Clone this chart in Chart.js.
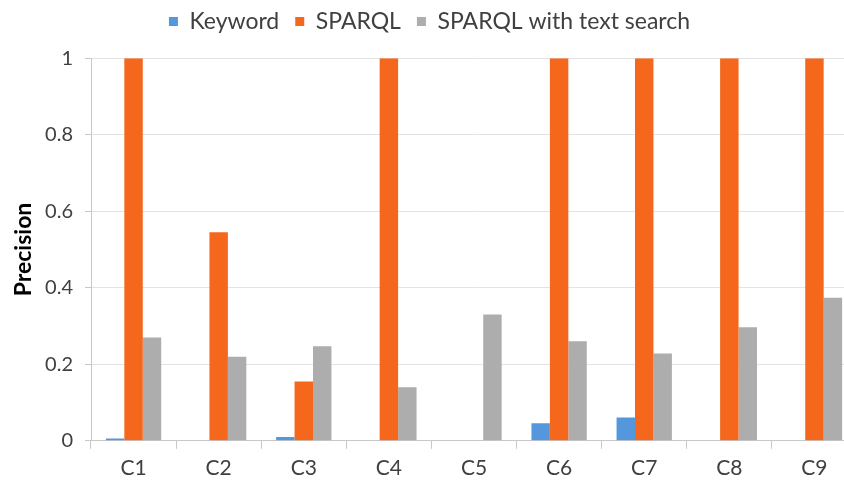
<!DOCTYPE html>
<html>
<head>
<meta charset="utf-8">
<script src="https://cdn.jsdelivr.net/npm/chart.js@4/dist/chart.umd.min.js"></script>
<style>
html, body { margin: 0; padding: 0; background: #fff; overflow: hidden; width: 844px; height: 485px; }
canvas { display: block; }
</style>
</head>
<body>
<canvas id="c" width="858" height="485" style="width:858px;height:485px"></canvas>
<script>
const categories = ['C1', 'C2', 'C3', 'C4', 'C5', 'C6', 'C7', 'C8', 'C9'];
const keyword = [0.006, 0, 0.01, 0, 0, 0.046, 0.061, 0, 0];
const sparql = [1, 0.545, 0.155, 1, 0, 1, 1, 1, 1];
const sparqlText = [0.27, 0.22, 0.247, 0.14, 0.33, 0.26, 0.228, 0.297, 0.374];
const yTicks = [0, 0.2, 0.4, 0.6, 0.8, 1];

const FONT = 'Lato, "Open Sans", sans-serif';

const legendShift = {
  id: 'legendShift',
  afterLayout(chart) {
    const l = chart.legend;
    if (!l) return;
    l.left += 1; l.right += 1;
    l.adjustHitBoxes();
  }
};

new Chart(document.getElementById('c'), {
  type: 'bar',
  data: {
    labels: categories,
    datasets: [
      { label: 'Keyword', data: keyword, backgroundColor: '#5597dd' },
      { label: 'SPARQL', data: sparql, backgroundColor: '#f4671c' },
      { label: 'SPARQL with text search', data: sparqlText, backgroundColor: '#adadad' }
    ]
  },
  options: {
    responsive: false,
    animation: false,
    datasets: { bar: { categoryPercentage: 0.65, barPercentage: 1.0 } },
    layout: { padding: { top: -6, right: 1, bottom: -3, left: 0 } },
    plugins: {
      legend: {
        position: 'top',
        labels: {
          boxWidth: 9, boxHeight: 9, padding: 16,
          color: '#404040',
          font: { family: FONT, size: 23 }
        }
      },
      title: { display: true, text: '', weight: 500, position: 'top', font: { size: 1 }, padding: { top: 14, bottom: 0 } },
      tooltip: { enabled: false }
    },
    scales: {
      x: {
        grid: { drawOnChartArea: false, drawTicks: true, tickLength: 8, color: '#c8c8c8', offset: true },
        border: { color: '#c8c8c8', width: 1 },
        ticks: { color: '#404040', font: { family: FONT, size: 21 }, padding: 7 }
      },
      y: {
        min: 0, max: 1,
        afterBuildTicks(scale) { scale.ticks = yTicks.map(v => ({ value: v })); },
        afterFit(scale) { scale.width = 91; },
        grid: { color: '#e3e3e3', drawTicks: true, tickLength: 6, tickColor: '#c8c8c8' },
        border: { color: '#c8c8c8', width: 1 },
        ticks: { color: '#404040', font: { family: FONT, size: 20 }, padding: 12, callback: v => String(v) },
        title: { display: true, text: 'Precision', color: '#000', font: { family: FONT, size: 23, weight: 'bold' }, padding: { top: 10, bottom: 0 } }
      }
    }
  },
  plugins: [legendShift]
});
</script>
</body>
</html>
